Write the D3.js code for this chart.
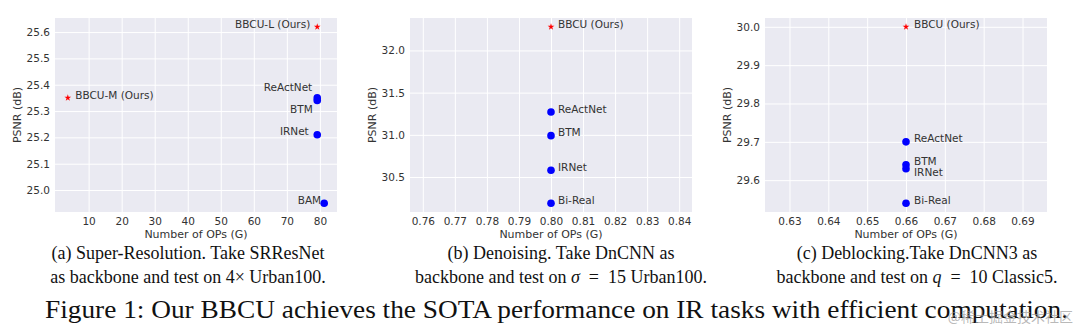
<!DOCTYPE html>
<html>
<head>
<meta charset="utf-8">
<script src="https://cdn.jsdelivr.net/npm/d3@7"></script>
<style>
  html, body { margin: 0; padding: 0; background: #ffffff; }
  svg { display: block; }
</style>
</head>
<body>
<svg id="fig" width="1080" height="331"></svg>
<script>
// ---------- data ----------
// (a) Super-resolution, SRResNet backbone, 4x Urban100
const srMethods = ["BBCU-L (Ours)", "BBCU-M (Ours)", "ReActNet", "BTM", "IRNet", "BAM"];
const srOps     = [79.2, 3.7, 79.2, 79.2, 79.2, 81.3];
const srPsnr    = [25.62, 25.35, 25.35, 25.34, 25.21, 24.95];
const srOurs    = [true, true, false, false, false, false];
const srXTicks  = [10, 20, 30, 40, 50, 60, 70, 80];
const srYTicks  = [25.0, 25.1, 25.2, 25.3, 25.4, 25.5, 25.6];

// (b) Denoising, DnCNN backbone, sigma = 15 Urban100
const dnMethods = ["BBCU (Ours)", "ReActNet", "BTM", "IRNet", "Bi-Real"];
const dnOps     = [0.80, 0.80, 0.80, 0.80, 0.80];
const dnPsnr    = [32.28, 31.27, 30.99, 30.58, 30.19];
const dnOurs    = [true, false, false, false, false];
const dnXTicks  = [0.76, 0.77, 0.78, 0.79, 0.80, 0.81, 0.82, 0.83, 0.84];
const dnYTicks  = [30.5, 31.0, 31.5, 32.0];

// (c) Deblocking, DnCNN3 backbone, q = 10 Classic5
const dbMethods = ["BBCU (Ours)", "ReActNet", "BTM", "IRNet", "Bi-Real"];
const dbOps     = [0.66, 0.66, 0.66, 0.66, 0.66];
const dbPsnr    = [30.00, 29.70, 29.64, 29.63, 29.54];
const dbOurs    = [true, false, false, false, false];
const dbXTicks  = [0.63, 0.64, 0.65, 0.66, 0.67, 0.68, 0.69];
const dbYTicks  = [29.6, 29.7, 29.8, 29.9, 30.0];

// ---------- layout ----------
// label placement relative to each marker: [dx, dy, anchor]
const srLabelPlace = [[-7, 1, "end"], [7.5, 1, "start"], [-5, -7, "end"], [-4.5, 12.5, "end"], [-8.5, 0.5, "end"], [-3, 0.5, "end"]];
const dnLabelPlace = [[7, 1, "start"], [7, 0.5, "start"], [7, 0.5, "start"], [7, 0.5, "start"], [7, 0.5, "start"]];
const dbLabelPlace = [[8, 1, "start"], [8, 0.5, "start"], [8, 0.5, "start"], [8, 7.5, "start"], [8, 0.5, "start"]];

const panels = [
  { left: 55,  methods: srMethods, ops: srOps, psnr: srPsnr, ours: srOurs, xTicks: srXTicks, yTicks: srYTicks, xFmt: d3.format("d"),   yFmt: d3.format(".1f"), place: srLabelPlace },
  { left: 410, methods: dnMethods, ops: dnOps, psnr: dnPsnr, ours: dnOurs, xTicks: dnXTicks, yTicks: dnYTicks, xFmt: d3.format(".2f"), yFmt: d3.format(".1f"), place: dnLabelPlace },
  { left: 765, methods: dbMethods, ops: dbOps, psnr: dbPsnr, ours: dbOurs, xTicks: dbXTicks, yTicks: dbYTicks, xFmt: d3.format(".2f"), yFmt: d3.format(".1f"), place: dbLabelPlace }
];
const plotW = 282, plotH = 194, plotTop = 18;

const BG = "#eaeaf2", INK = "#333333";
const SANS = "'DejaVu Sans', sans-serif";
const SERIF = "'Liberation Serif', 'Times New Roman', serif";

// autoscale: widen a degenerate range by 5% of the value, then add 5% margins
function paddedDomain(values) {
  let [lo, hi] = d3.extent(values);
  if (hi - lo < 1e-12) { lo -= 0.05 * Math.abs(lo); hi += 0.05 * Math.abs(hi); }
  const m = (hi - lo) * 0.05;
  return [lo - m, hi + m];
}

const svg = d3.select("#fig");
svg.append("rect").attr("width", 1080).attr("height", 331).attr("fill", "#ffffff");

panels.forEach(p => {
  const g = svg.append("g").attr("transform", `translate(${p.left},${plotTop})`);
  const x = d3.scaleLinear().domain(paddedDomain(p.ops)).range([0, plotW]);
  const y = d3.scaleLinear().domain(paddedDomain(p.psnr)).range([plotH, 0]);

  g.append("rect").attr("width", plotW).attr("height", plotH).attr("fill", BG);

  // white grid
  const gx = g.append("g").attr("transform", `translate(0,${plotH})`)
    .call(d3.axisBottom(x).tickValues(p.xTicks).tickSize(-plotH).tickFormat(""));
  const gy = g.append("g")
    .call(d3.axisLeft(y).tickValues(p.yTicks).tickSize(-plotW).tickFormat(""));
  [gx, gy].forEach(a => {
    a.select(".domain").remove();
    a.selectAll(".tick line").attr("stroke", "#ffffff").attr("stroke-width", 1);
  });

  // tick labels
  const ax = g.append("g").attr("transform", `translate(0,${plotH})`)
    .call(d3.axisBottom(x).tickValues(p.xTicks).tickSize(0).tickPadding(5.5).tickFormat(p.xFmt));
  const ay = g.append("g")
    .call(d3.axisLeft(y).tickValues(p.yTicks).tickSize(0).tickPadding(5).tickFormat(p.yFmt));
  [ax, ay].forEach(a => {
    a.select(".domain").remove();
    a.attr("font-family", SANS).attr("font-size", 10.5);
    a.selectAll(".tick text").attr("fill", INK);
  });

  // axis titles
  g.append("text").attr("x", plotW / 2).attr("y", 220)
    .attr("text-anchor", "middle").attr("font-family", SANS).attr("font-size", 11)
    .attr("fill", INK).text("Number of OPs (G)");
  g.append("text").attr("transform", `translate(-38.3,${plotH / 2}) rotate(-90)`)
    .attr("text-anchor", "middle").attr("dy", "0.35em")
    .attr("font-family", SANS).attr("font-size", 11)
    .attr("fill", INK).text("PSNR (dB)");

  // markers
  const idx = d3.range(p.methods.length);
  g.selectAll("circle.m").data(idx.filter(i => !p.ours[i])).join("circle")
    .attr("class", "m")
    .attr("cx", i => x(p.ops[i])).attr("cy", i => y(p.psnr[i]))
    .attr("r", 3.8).attr("fill", "#0000ff");
  g.selectAll("path.s").data(idx.filter(i => p.ours[i])).join("path")
    .attr("class", "s")
    .attr("transform", i => `translate(${x(p.ops[i])},${y(p.psnr[i])})`)
    .attr("d", d3.symbol(d3.symbolStar, 14))
    .attr("fill", "#ff0000");

  // method names
  g.selectAll("text.lbl").data(idx).join("text")
    .attr("class", "lbl")
    .attr("x", i => x(p.ops[i]) + p.place[i][0])
    .attr("y", i => y(p.psnr[i]) + p.place[i][1])
    .attr("text-anchor", i => p.place[i][2])
    .attr("font-family", SANS).attr("font-size", 10.5).attr("fill", INK)
    .text(i => p.methods[i]);
});

// ---------- captions ----------
function caption(cx, yBase, parts, size) {
  const t = svg.append("text").attr("x", cx).attr("y", yBase)
    .attr("text-anchor", "middle").attr("font-family", SERIF)
    .attr("font-size", size).attr("fill", "#111111");
  parts.forEach(([s, italic]) => {
    const ts = t.append("tspan").text(s);
    if (italic) ts.attr("font-style", "italic");
  });
}
caption(188, 259, [["(a) Super-Resolution. Take SRResNet"]], 18);
caption(188, 282.5, [["as backbone and test on 4\u00d7 Urban100."]], 18);
caption(561, 259, [["(b) Denoising. Take DnCNN as"]], 18);
caption(561, 282.5, [["backbone and test on "], ["\u03c3", true], ["\u2002=\u200215 Urban100."]], 18);
caption(917, 259, [["(c) Deblocking.Take DnCNN3 as"]], 18);
caption(917, 282.5, [["backbone and test on "], ["q", true], ["\u2002=\u200210 Classic5."]], 18);

svg.append("text").attr("x", 45).attr("y", 318)
  .attr("font-family", SERIF).attr("font-size", 26).attr("fill", "#111111")
  .attr("textLength", 1023).attr("lengthAdjust", "spacingAndGlyphs")
  .text("Figure 1: Our BBCU achieves the SOTA performance on IR tasks with efficient computation.");

// site watermark
svg.append("text").attr("x", 1073).attr("y", 322)
  .attr("text-anchor", "end").attr("font-family", "'Noto Sans CJK SC', sans-serif")
  .attr("font-size", 14).attr("fill", "#9a9a9a").attr("fill-opacity", 0.7)
  .text("@稀土掘金技术社区");
</script>
</body>
</html>
